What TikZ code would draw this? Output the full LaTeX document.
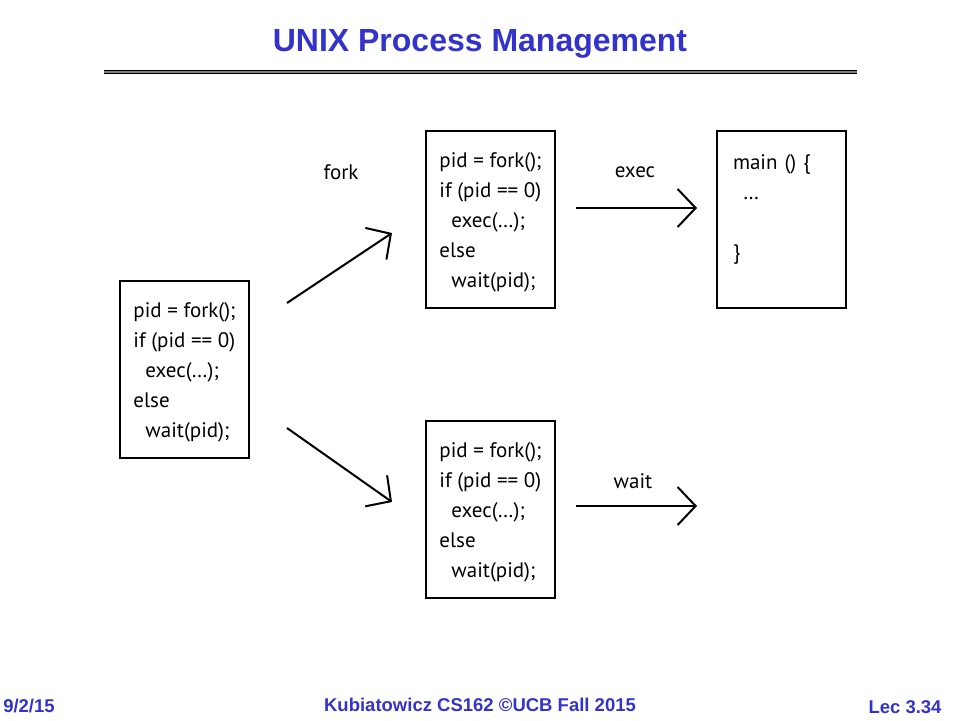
\documentclass[tikz,border=0pt]{standalone}
\usepackage{fontspec}
\setmainfont{PT Sans}
\newfontfamily\slidefont{Liberation Sans}
\usetikzlibrary{arrows.meta, positioning}
\definecolor{slideblue}{RGB}{51,51,204}

\begin{document}
\begin{tikzpicture}[x=1pt, y=-1pt,
  codebox/.style={draw, line width=2pt, minimum width=129pt, minimum height=177pt,
    align=left, inner sep=0pt, font=\fontsize{21}{30}\selectfont},
  lbl/.style={font=\fontsize{21}{25}\selectfont},
  slidetitle/.style={text=slideblue, font=\slidefont\bfseries\fontsize{32}{36}\selectfont},
  foot/.style={text=slideblue, font=\slidefont\bfseries\fontsize{18.5}{22}\selectfont},
  >={Straight Barb[length=18pt, width=38pt]}
]
\useasboundingbox (0,0) rectangle (960,720);

% Title and rule
\node[slidetitle] (title) at (480,44) {UNIX Process Management};
\draw[line width=1.5pt] (104,70.5) -- (857,70.5);
\draw[line width=1.2pt, gray] (104,72) -- (857,72);
\draw[line width=1.2pt] (104,73.5) -- (857,73.5);

% Boxes
\node[codebox] (parent) at (184.5,369) {\rule{0pt}{21pt}pid = fork();\\ if (pid == 0)\\ \hspace*{12pt}exec(…);\\ else\\ \hspace*{12pt}wait(pid);};
\node[codebox] (child) at (490.5,219) {\rule{0pt}{21pt}pid = fork();\\ if (pid == 0)\\ \hspace*{12pt}exec(…);\\ else\\ \hspace*{12pt}wait(pid);};
\node[codebox] (waiter) at (490.5,509) {\rule{0pt}{21pt}pid = fork();\\ if (pid == 0)\\ \hspace*{12pt}exec(…);\\ else\\ \hspace*{12pt}wait(pid);};
\node[codebox, right=160pt of child, text width=97pt, inner xsep=16pt] (prog) {\rule{0pt}{21pt}main () \{\\ \hspace*{10pt}…\\ \mbox{}\\ \}\\ \mbox{}};

% Arrow ends
\coordinate (forkup0) at (287,303);
\coordinate (forkup1) at (392,233);
\coordinate (forkdn0) at (287,428);
\coordinate (forkdn1) at (392,502);
\coordinate (exec0) at (576,208);
\coordinate (exec1) at (697,208);
\coordinate (wait0) at (576,506);
\coordinate (wait1) at (697,506);

% Arrows
\draw[->, line width=2pt] (forkup0) -- (forkup1);
\draw[->, line width=2pt] (forkdn0) -- (forkdn1);
\draw[->, line width=2pt] (exec0) -- (exec1);
\draw[->, line width=2pt] (wait0) -- (wait1);

% Labels
\node[lbl] (forklbl) at (341,172) {fork};
\node[lbl] (execlbl) at (635,172) {exec};
\node[lbl] (waitlbl) at (633,481) {wait};

% Footer
\node[foot] (date) at (29,706) {9/2/15};
\node[foot] (course) at (480,705) {Kubiatowicz CS162 ©UCB Fall 2015};
\node[foot] (lec) at (905,707) {Lec 3.34};
\end{tikzpicture}
\end{document}
